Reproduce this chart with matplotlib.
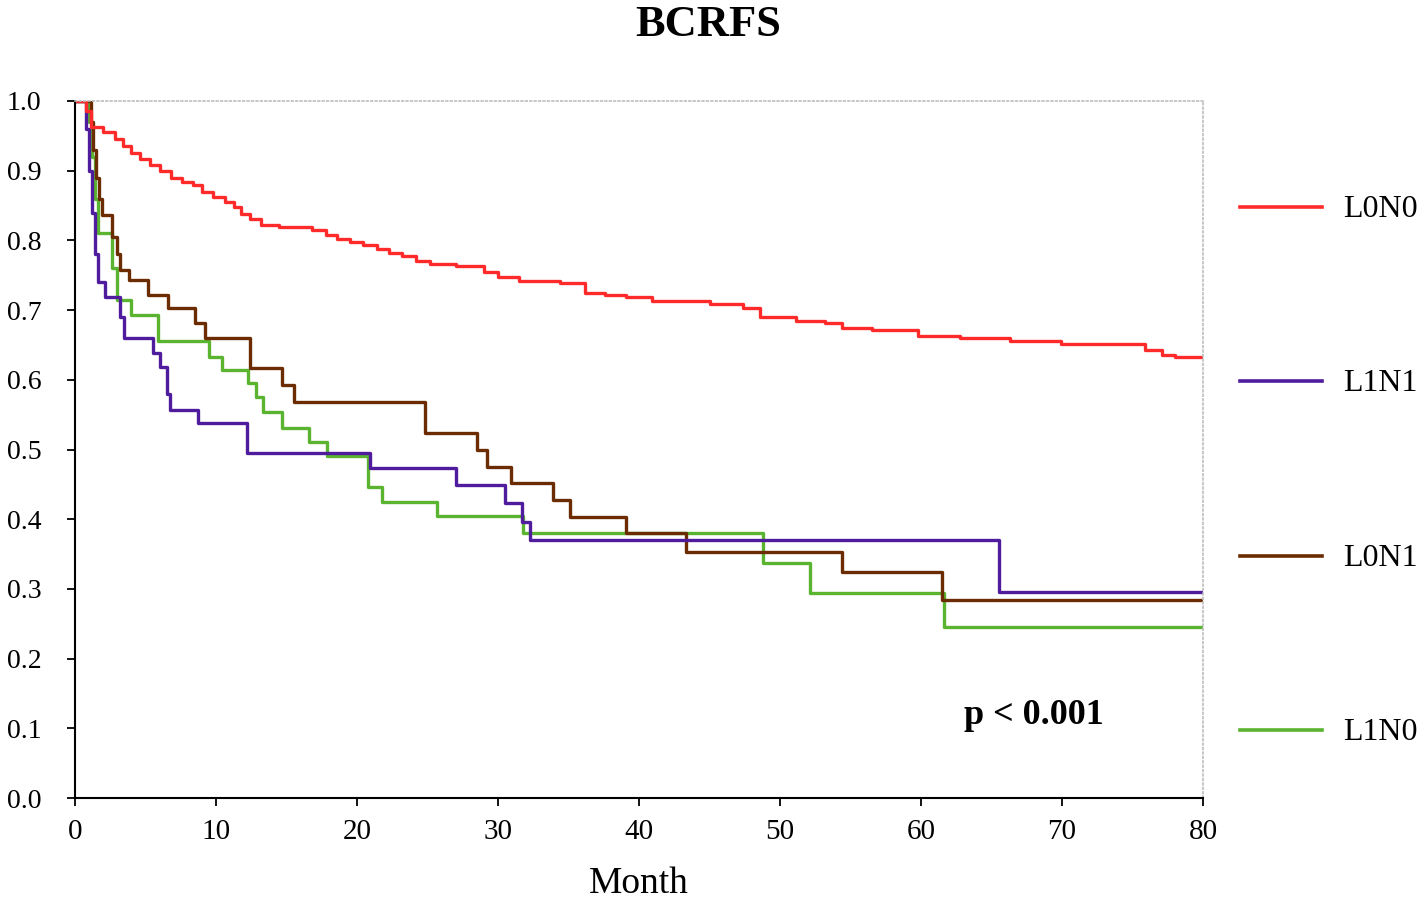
import matplotlib
matplotlib.use('Agg')
import matplotlib.pyplot as plt
from matplotlib.lines import Line2D

plt.rcParams['font.family'] = ['Liberation Serif', 'DejaVu Serif']

# step times (month) and survival after each step
l0n0_t = [0, 0.8, 1.1, 2.0, 2.8, 3.4, 4.0, 4.6, 5.3, 6.0, 6.8, 7.6, 8.4, 9.0, 9.8, 10.6,
          11.3, 11.8, 12.4, 13.2, 14.5, 16.8, 17.8, 18.6, 19.5, 20.4, 21.4, 22.3, 23.2,
          24.2, 25.2, 27.0, 29.0, 30.0, 31.5, 34.4, 36.2, 37.6, 39.1, 40.9, 45.0, 47.4,
          48.6, 51.1, 53.2, 54.4, 56.5, 59.8, 62.8, 66.3, 69.9, 75.9, 77.1, 78.0, 80]
l0n0_s = [1.0, 0.985, 0.962, 0.955, 0.945, 0.935, 0.925, 0.917, 0.908, 0.900, 0.890, 0.884,
          0.879, 0.870, 0.862, 0.855, 0.848, 0.838, 0.830, 0.822, 0.819, 0.815, 0.808,
          0.802, 0.798, 0.793, 0.787, 0.782, 0.777, 0.771, 0.766, 0.763, 0.755, 0.748,
          0.742, 0.739, 0.725, 0.722, 0.719, 0.713, 0.709, 0.703, 0.690, 0.684, 0.681,
          0.675, 0.672, 0.663, 0.660, 0.655, 0.651, 0.643, 0.636, 0.633, 0.633]

l1n1_t = [0, 0.8, 1.0, 1.2, 1.4, 1.6, 2.1, 3.2, 3.5, 5.5, 6.0, 6.5, 6.7, 8.7, 12.2, 20.9,
          27.0, 30.5, 31.7, 32.3, 65.5, 80]
l1n1_s = [1.0, 0.96, 0.90, 0.84, 0.78, 0.74, 0.719, 0.69, 0.66, 0.638, 0.619, 0.58, 0.557,
          0.538, 0.495, 0.473, 0.449, 0.423, 0.396, 0.370, 0.296, 0.296]

l0n1_t = [0, 1.1, 1.3, 1.5, 1.7, 1.9, 2.6, 3.0, 3.2, 3.8, 5.2, 6.6, 8.5, 9.2, 12.4, 14.7,
          15.5, 24.8, 28.5, 29.2, 30.9, 33.9, 35.1, 39.1, 43.3, 54.4, 61.5, 80]
l0n1_s = [1.0, 0.97, 0.93, 0.89, 0.86, 0.836, 0.805, 0.78, 0.757, 0.743, 0.722, 0.703,
          0.681, 0.66, 0.617, 0.593, 0.568, 0.524, 0.499, 0.475, 0.452, 0.428, 0.403,
          0.380, 0.353, 0.324, 0.284, 0.284]

l1n0_t = [0, 1.0, 1.2, 1.4, 1.6, 2.6, 3.0, 4.0, 5.9, 9.5, 10.4, 12.3, 12.8, 13.3, 14.7,
          16.6, 17.9, 20.8, 21.8, 25.7, 31.8, 48.8, 52.1, 61.6, 80]
l1n0_s = [1.0, 0.97, 0.92, 0.86, 0.81, 0.76, 0.714, 0.693, 0.655, 0.633, 0.614, 0.595,
          0.576, 0.554, 0.531, 0.511, 0.490, 0.446, 0.425, 0.404, 0.380, 0.337, 0.294,
          0.246, 0.246]

names = ['L0N0', 'L1N1', 'L0N1', 'L1N0']
colors = ['#ff2a2a', '#4f1c9e', '#6a2c00', '#5ab430']
series = [(l0n0_t, l0n0_s), (l1n1_t, l1n1_s), (l0n1_t, l0n1_s), (l1n0_t, l1n0_s)]

fig = plt.figure(figsize=(14.27, 9.05), dpi=100)
ax = fig.add_axes([0.0526, 0.1182, 0.7904, 0.7702])

# draw back to front so red is on top like the original
for i in [3, 2, 1, 0]:
    t, s = series[i]
    ax.step(t, s, where='post', color=colors[i], lw=2.4)

ax.set_xlim(0, 80)
ax.set_ylim(0, 1.0)
ax.set_xticks(range(0, 81, 10))
ax.set_yticks([i / 10 for i in range(11)])
ax.set_yticklabels([f'{i / 10:.1f}' for i in range(11)])
ax.tick_params(axis='both', direction='out', length=6, width=1.3, labelsize=20, color='black')
ax.tick_params(axis='y', pad=18)
ax.tick_params(axis='x', pad=9, labelsize=21)

for side in ['left', 'bottom']:
    ax.spines[side].set_linewidth(1.5)
for side in ['top', 'right']:
    ax.spines[side].set_color('#bdbdbd')
    ax.spines[side].set_linestyle(':')
    ax.spines[side].set_linewidth(1.2)

ax.set_xlabel('Month', fontsize=27)
ax.xaxis.set_label_coords(0.5, -0.098)

ax.text(0.85, 0.119, 'p < 0.001', transform=ax.transAxes, ha='center', va='center',
        fontsize=26, fontweight='bold')

fig.text(0.496, 0.972, 'BCRFS', ha='center', va='center', fontsize=32, fontweight='bold')

leg_y = [0.7713, 0.579, 0.3856, 0.1934]
for name, c, y in zip(names, colors, leg_y):
    fig.add_artist(Line2D([0.869, 0.9264], [y, y], transform=fig.transFigure, color=c, lw=2.6))
    fig.text(0.941, y - 0.003, name, ha='left', va='center', fontsize=23)

fig.savefig('out.png', dpi=100)
